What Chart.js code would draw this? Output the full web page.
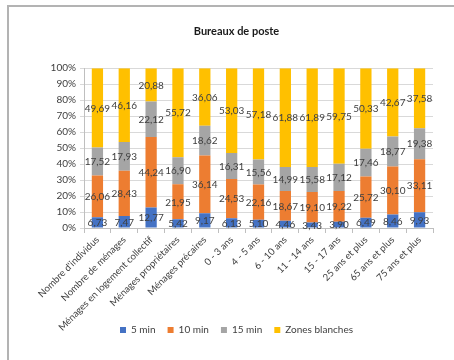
<!DOCTYPE html>
<html>
<head>
<meta charset="utf-8">
<script src="https://cdn.jsdelivr.net/npm/chart.js@4"></script>
<style>
  html, body { margin: 0; padding: 0; background: #fff; }
  #wrap { position: relative; width: 454px; height: 360px; overflow: hidden; }
  #frame { position: absolute; left: 7px; top: 5px; width: 460px; height: 370px;
           border-top: 2px solid #b3b3b3; border-left: 2px solid #b3b3b3; box-sizing: border-box; }
  canvas { position: absolute; left: 0; top: 0; }
</style>
</head>
<body>
<div id="wrap">
  <canvas id="c" width="454" height="360"></canvas>
  <div id="frame"></div>
</div>
<script>
// Population share by travel time to the nearest post office (%)
const categories = [
  "Nombre d'individus", "Nombre de ménages", "Ménages en logement collectif",
  "Ménages propriétaires", "Ménages précaires", "0 - 3 ans", "4 - 5 ans",
  "6 - 10 ans", "11 - 14 ans", "15 - 17 ans", "25 ans et plus",
  "65 ans et plus", "75 ans et plus"
];
const min5   = [6.73, 7.47, 12.77, 5.42, 9.17, 6.13, 5.10, 4.46, 3.43, 3.90, 6.49, 8.46, 9.93];
const min10  = [26.06, 28.43, 44.24, 21.95, 36.14, 24.53, 22.16, 18.67, 19.10, 19.22, 25.72, 30.10, 33.11];
const min15  = [17.52, 17.93, 22.12, 16.90, 18.62, 16.31, 15.56, 14.99, 15.58, 17.12, 17.46, 18.77, 19.38];
const blanks = [49.69, 46.16, 20.88, 55.72, 36.06, 53.03, 57.18, 61.88, 61.89, 59.75, 50.33, 42.67, 37.58];
const seriesNames = ["5 min", "10 min", "15 min", "Zones blanches"];
const yTicks = [0, 10, 20, 30, 40, 50, 60, 70, 80, 90, 100];

const colors = ["#4472C4", "#ED7D31", "#A5A5A5", "#FFC000"];
const FONT = "Lato, 'Open Sans', sans-serif";

// Writes each segment's value (French decimal comma) at the segment centre
const segmentLabels = {
  id: 'segmentLabels',
  afterDatasetsDraw(chart) {
    const ctx = chart.ctx;
    ctx.save();
    ctx.font = "10px " + FONT;
    ctx.fillStyle = "#404040";
    ctx.textAlign = "center";
    ctx.textBaseline = "middle";
    chart.data.datasets.forEach((ds, di) => {
      const meta = chart.getDatasetMeta(di);
      meta.data.forEach((bar, i) => {
        const p = bar.getProps(['x', 'y', 'base'], true);
        const v = ds.data[i];
        ctx.fillText(v.toFixed(2).replace('.', ','), p.x, (p.y + p.base) / 2 + 0.5);
      });
    });
    ctx.restore();
  }
};

new Chart(document.getElementById('c'), {
  type: 'bar',
  data: {
    labels: categories,
    datasets: [min5, min10, min15, blanks].map((d, k) => ({
      label: seriesNames[k],
      data: d,
      backgroundColor: colors[k],
      borderWidth: 0,
      categoryPercentage: 1,
      barPercentage: 0.42
    }))
  },
  options: {
    responsive: false,
    animation: false,
    devicePixelRatio: 1,
    layout: { padding: { left: 40, right: 21, top: 0, bottom: 15 } },
    plugins: {
      title: {
        display: true,
        text: 'Bureaux de poste',
        color: '#1a1a1a',
        font: { family: FONT, size: 11, weight: 'bold' },
        padding: { top: 25, bottom: 30 }
      },
      legend: {
        position: 'bottom',
        labels: {
          color: '#404040',
          font: { family: FONT, size: 10 },
          boxWidth: 6, boxHeight: 6,
          padding: 12
        }
      },
      tooltip: { enabled: false }
    },
    scales: {
      x: {
        stacked: true,
        afterFit(axis) {
          axis.height = 85;
          // the long slanted labels may run past the axis box, down beside the legend
          axis._computeLabelArea = () => undefined;
        },
        grid: { display: true, drawOnChartArea: false, offset: true, tickLength: 5, color: '#bfbfbf' },
        border: { color: '#bfbfbf' },
        ticks: {
          color: '#404040',
          font: { family: FONT, size: 9.6 },
          minRotation: 45, maxRotation: 45, autoSkip: false, padding: 1
        }
      },
      y: {
        stacked: true,
        min: 0, max: 100,
        afterBuildTicks(axis) { axis.ticks = yTicks.map(v => ({ value: v })); },
        afterFit(axis) { axis.width = 44; },
        grid: { color: '#d9d9d9', tickLength: 4 },
        border: { color: '#bfbfbf' },
        ticks: {
          color: '#404040',
          font: { family: FONT, size: 10 },
          padding: 4,
          callback: v => v + '%'
        }
      }
    }
  },
  plugins: [segmentLabels]
});
</script>
</body>
</html>
